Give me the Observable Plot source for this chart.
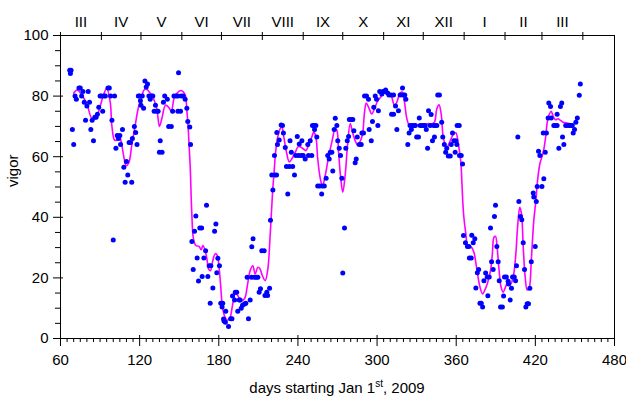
<!DOCTYPE html>
<html><head><meta charset="utf-8">
<script src="https://cdn.jsdelivr.net/npm/d3@7"></script>
<script src="https://cdn.jsdelivr.net/npm/@observablehq/plot@0.6"></script>
<style>body{margin:0;background:#fff;} #chart svg{display:block;}</style>
</head><body><div id="chart"></div>
<script>
const pointDays = [67,67.5,68,69,70,71,72,74,75,76,77,78,79,80,81,82,83,84,85,86,87,88,89,90,91,92,93,94,96,97,98,99,100,101,102,103,104,105,105.5,107,108,109,110,111,112,113,114,114.5,116,117,118,119,120,120.6,121,122,123,124,125,126,127,128,129,130,131,132,133,134,135.6,135,137,138,139,141,142,144,145,146,147.5,149,149.5,149,151,151.5,153,154.5,155.8,156.5,158,158.6,159.6,160.6,161.6,162.6,163.6,164.6,165.6,167,167.4,168.7,170,170.7,171.7,172.7,174,173.5,175.5,176.8,177.8,178.5,179.3,180.5,181.5,182.5,183,183.6,184,185,185.3,187.4,189,190,190.4,192,192.5,193.6,194.4,195.5,196.2,197,198,199.5,200.5,201.5,202.5,203.8,204.8,205,206,207,208.5,209.6,210.6,211.6,212.6,214.4,215,216.4,217,218.5,219.2,220.2,221,222.2,222.5,223.8,224,224.5,225.8,227.3,228.3,229,230.4,231.3,232.3,233.5,234,235,236,237.4,238.4,239.5,240.5,241,242.5,243,244,245.5,247.5,248,249.3,250.5,251,252.3,252.6,253.6,254.3,255,256.5,258,258.5,260,261.4,262.6,263.7,264.5,265.7,266.4,267.5,268.3,269.5,270.2,271.3,272.3,273.3,274,275.3,276.3,277.4,278.4,279,280.3,281.6,282.4,283.4,284.2,285,286.5,288,288.5,289.7,290.5,292,293.5,294,295.6,296.5,297.5,298.6,299.6,300.6,301,302,303.6,304.5,305.5,306.5,308,309,310.5,311,312.5,312.5,314,315,316.2,317.5,319.3,319.5,321,321.8,323.3,324.3,325,326,326.5,328,329,330,331.4,332,332.7,334,335,336.5,337.3,338.3,339,340.3,341,342,343,343.5,344,345.3,346,347.3,349,349.8,351,352,352.8,354,355.5,356.2,357.2,358.2,359.2,359.7,360.5,360.7,362.3,362.5,363.8,364.8,365.5,367,368.5,369.6,370,371.4,371.8,372.9,374.1,374.9,376,377,378,379,380,381,382.3,383.5,384,385,386,386.8,388,389,389.8,390.8,391.8,392.6,393.6,395,395.9,396.6,398,399.4,399.8,400.9,401.9,402.7,404,405,405.7,406.7,407.5,408.7,409.7,410.8,411.8,412.8,413.8,414.8,415.8,416.9,418.4,418.8,419.9,420.7,421.4,422.4,423.4,425,426,426.4,427.5,428.4,429.7,430.2,431.5,432,434,435.2,436.5,436.5,437.8,439,440,440.6,441.6,443,444.5,446,447,448,448.7,449.7,450.7,451.8,453.3,454.1];
const pointVigor = [88.5,87.5,88.5,69,64,80,79,82.7,82.7,80,81.5,78,72,76.7,81.5,78,69,72,65.3,73,73,74,76.3,80,80,75,80,80,82.7,82.7,80,72,32.5,80,62.8,67,66,67,64,69,56.5,51.6,58.4,54,64.7,64.7,51.6,66,70,68,64,80,80,78.5,77,80,76,85,83,84,80,79,80,80,75,77,75,75,65.3,61.5,61.5,78,80,79,70,70,75,80,80,80,87.7,75,75,80,80,79,76,71.6,69.8,64,32,22.8,35.4,40.4,26.6,19,36.5,36.5,20.5,26.6,29,44,20.5,24,24,11.6,16.7,35.4,37.8,21.7,26.5,24,11.6,10.4,11.6,6.4,5.8,5.4,9,4,6.5,6.5,14,12.7,15.3,15.3,9,12.7,12.7,10,11,11.4,11.6,20.2,6.5,12.7,20.2,30.3,32.9,20.2,20.2,20.2,15.3,16.4,29,29,14.2,15.3,14.2,16.6,39,54,49,60.4,54,54,68,64,65.5,70.5,70.3,67.8,63,56.8,47.7,56.8,65.3,61.5,56.8,54,60.4,66.7,60.4,64.2,60.4,65.3,60.4,59.2,64,60.4,65.3,60.4,70.3,70.3,69,70.3,66.5,50.3,50.3,47.7,50.3,50.3,52.9,60.4,59.2,61.5,61.5,55.3,69,72.7,70.3,65.3,62.8,60.4,52.9,21.6,36.5,62.8,65.3,66.7,72.3,72.3,72.3,68.6,58,59.2,66.5,64,64,67.8,67.8,80,80,79,69,65.3,71.6,76.3,80,79,70.3,75.2,81.5,80.7,81.5,81.5,82,81,80.4,80.4,74,74,80.4,76.7,69,75.2,80.4,82.7,80.4,80.4,79,64,67.8,70.3,69,70.3,70.3,70.3,66.5,66.5,72.8,70.3,70.3,70.3,70.3,69,62.8,75.2,70.3,73.9,65.3,70.3,66.5,70.3,70.3,80.4,80.4,71.4,66.5,64,61.5,62.8,60.2,60.2,64,67.8,65.3,61.5,65.3,64,70.3,70.3,60.4,60.4,57.6,34,31.6,30.4,30.4,26.6,26.6,34.1,31.6,32.9,16.7,21.7,22.8,11.6,11.6,10.4,19.1,21.6,20.3,14.1,20.3,36.5,25.3,22.8,40.3,44,30.4,25.3,19.1,10.4,10.4,14,20.3,20.3,18.9,18,12.7,16.6,20.3,20.3,19.1,24,66.5,45.2,40.3,39.2,31.6,22.8,10.4,11.5,11.5,16.6,25.3,48,46.7,30.4,45.2,50.2,61.8,60.4,50.2,67.8,52.7,61.5,67.8,72.8,77.7,76.6,72.8,70.3,70.3,70.3,74,62.8,76.6,77.7,66.5,64,70.3,70.3,70.3,70.3,70.3,67.8,69,71.4,72.8,80.3,84];

const curveDays = [70,72.6,76.4,80,84,87,90.3,92.6,95,97.7,99,101,102.7,104.5,106,108,109.8,111.8,114,116.6,119.2,121.6,123,124.7,128,130.4,133,135,136.8,139.6,142,144,146.4,149.5,152,154.5,155.8,157,158.3,159.5,160.8,162.6,165,166.7,167.9,169.7,171.2,172.2,173.7,175.2,177.3,178.8,180.3,181.5,182.8,184.8,186.8,188.6,190.4,192.4,194.4,196.5,198,200,201.5,203.8,205.8,207.6,209.6,211.2,213,215.2,217.2,219,220.7,222.2,223.2,224.7,226.5,227.8,229.3,231.6,233.4,235.4,238,240.4,243.5,246,248,250.5,252,253.6,255,257,258.6,260.7,263.2,265.7,268.3,269.5,270.8,272.5,274,275.8,277.6,279.6,281.4,283.4,285.4,287.4,289,290.5,291.8,293.5,296,298,300.6,303.6,306,308,310.7,313.2,315,317.5,319.3,320.8,322.6,324.4,329,331.4,335,338.5,341.5,343.5,345.3,347,348.6,350.4,352.9,355.5,358,359.7,361.8,363.5,364.3,365,365.8,367.3,368.8,371.4,373.4,375.4,378,380,381.5,383.5,386,387.4,388.6,389.8,391,392.3,394,395.6,397.4,399.1,401.2,403.2,405,406.7,408.2,409.5,410.8,412.3,413.8,415.3,416.9,418.8,420.4,421.4,423.4,426,427.8,429,430.2,432,433.5,435.3,437.3,439,441,444,448];
const curveVigor = [81,82,80.2,77.4,72.5,73,77,80.4,82.5,78,70,65.5,65.5,67,65,60,57,58,63.7,70.3,76.5,79.6,81.8,82.4,81,79.3,75.8,70,72.5,77,76.3,75,79.7,81.5,81.8,80.4,75.2,68,57,41.8,32.9,30.7,30.4,29.3,30.7,29,25.7,23,22.4,25.2,28,27.4,23,17,10.3,7,6,7,10.9,14.7,14.2,12.2,12.5,13.6,17,22.4,24,21.3,23.5,23,20.8,19.1,23,34.5,47.7,56.6,62,66.5,69.2,69.8,66.5,60.9,58.3,59.3,61.5,63.4,62.8,62,63.7,66.5,68.1,66.5,59.3,52.7,50.3,53.8,59.9,64.8,69.2,68.8,61.5,52.7,48.3,53.8,63.7,70.9,68.1,65.3,63.7,65.3,67.5,74.7,77.7,76.4,74.1,75.8,78.5,80.2,82.4,81.3,80.2,76.9,78,81.1,81.3,78,72.5,70.5,70.3,70.5,70.5,70.9,70.9,71.4,75.8,77.1,74.1,65.9,63.1,65.3,67.5,67.9,63.7,58.2,51.6,45,40,34.5,30.4,30.2,28.5,23.5,17,14.7,15.8,18,22.4,27.9,33.4,33.7,30.2,23.5,17,15.3,17,18.6,18,20.3,26.8,37.8,43.3,41.1,30.2,20.3,16,16.7,25.7,38.9,45.5,51,57.6,61.5,66.5,71.4,73.6,75,73.3,72.2,72.5,72,71.4,71.1,70.8];

const xTicks = [60,120,180,240,300,360,420,480];
const yTicks = [0,20,40,60,80,100];
const monthStarts = [60,91,121,152,182,213,244,274,305,335,366,397,425,456];
const monthLabels = ["III","IV","V","VI","VII","VIII","IX","X","XI","XII","I","II","III"];
const xMinor = d3.range(60, 481, 5).filter(d => d % 60 !== 0);
const yMinor = d3.range(0, 101, 5).filter(d => d % 20 !== 0);

const points = pointDays.map((d, i) => ({day: d, vigor: pointVigor[i]}));
const curve = curveDays.map((d, i) => ({day: d, vigor: curveVigor[i]}));
const months = monthLabels.map((m, i) => ({label: m, mid: (monthStarts[i] + monthStarts[i + 1]) / 2}));

const blank = () => "";
const plot = Plot.plot({
  width: 626, height: 401,
  marginLeft: 60, marginRight: 12, marginTop: 35, marginBottom: 63,
  style: {fontFamily: "'Liberation Sans', Arial, sans-serif", fontSize: "15px", background: "#fff", color: "#000"},
  x: {domain: [60, 480]},
  y: {domain: [0, 100]},
  marks: [
    Plot.axisX({anchor: "bottom", ticks: xTicks, tickSize: 8, tickPadding: 8, label: null, fontSize: 15}),
    Plot.axisX({anchor: "bottom", ticks: xTicks, tickSize: -3, tickFormat: blank, label: null}),
    Plot.axisX({anchor: "bottom", ticks: xMinor, tickSize: 4, tickFormat: blank, label: null}),
    Plot.axisX({anchor: "top", ticks: monthStarts, tickSize: 4, tickFormat: blank, label: null}),
    Plot.axisX({anchor: "top", ticks: monthStarts, tickSize: -4, tickFormat: blank, label: null}),
    Plot.axisY({anchor: "left", ticks: yTicks, tickSize: 7, tickPadding: 5, label: null, fontSize: 15}),
    Plot.axisY({anchor: "left", ticks: yTicks, tickSize: -3, tickFormat: blank, label: null}),
    Plot.axisY({anchor: "left", ticks: yMinor, tickSize: 5, tickFormat: blank, label: null}),
    Plot.frame({stroke: "#000", strokeWidth: 1}),
    Plot.line(curve, {x: "day", y: "vigor", stroke: "#ff00ff", strokeWidth: 1.6, curve: "catmull-rom"}),
    Plot.dot(points, {x: "day", y: "vigor", r: 2.5, fill: "#0000ff", stroke: "none"}),
    Plot.text(months, {x: "mid", text: "label", frameAnchor: "top", dy: -19, fontSize: 15}),
    Plot.text(["vigor"], {frameAnchor: "left", dx: -47, rotate: -90, fontSize: 15})
  ]
});
document.getElementById("chart").appendChild(plot);

const xr = plot.scale("x").range;
const t = d3.select(plot).append("text")
  .attr("x", (xr[0] + xr[1]) / 2).attr("y", 393)
  .attr("text-anchor", "middle").attr("font-size", 15).attr("fill", "#000");
t.append("tspan").text("days starting Jan 1");
t.append("tspan").attr("font-size", 10).attr("dy", -6).text("st");
t.append("tspan").attr("dy", 6).text(", 2009");
</script>
</body></html>
